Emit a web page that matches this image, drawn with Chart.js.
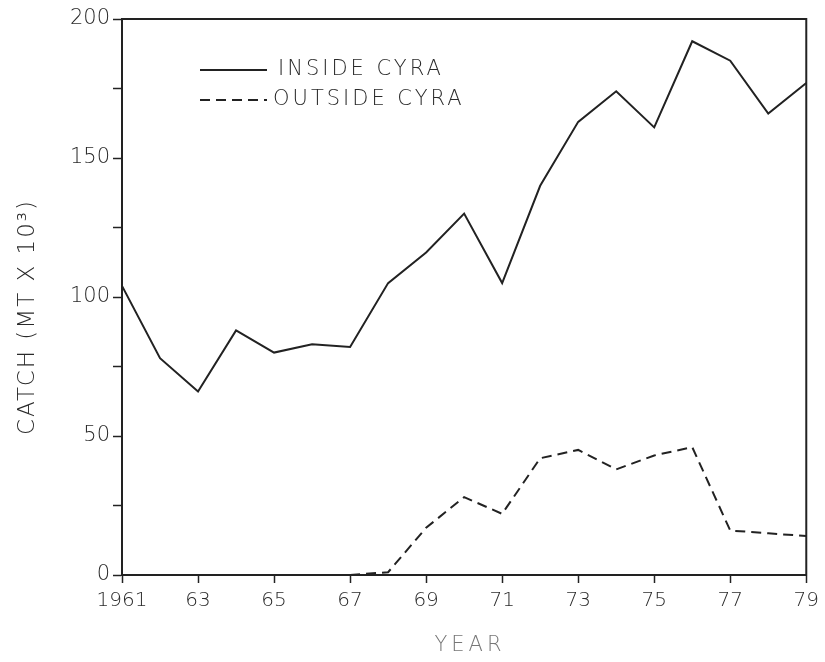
<!DOCTYPE html>
<html>
<head>
<meta charset="utf-8">
<script src="https://cdn.jsdelivr.net/npm/chart.js@4"></script>
<style>
  html, body { margin: 0; padding: 0; background: #fff; }
  #wrap { width: 825px; height: 662px; }
</style>
</head>
<body>
<div id="wrap"><canvas id="myChart" width="825" height="662"></canvas></div>
<script>
// data
const years = [1961, 1962, 1963, 1964, 1965, 1966, 1967, 1968, 1969, 1970,
  1971, 1972, 1973, 1974, 1975, 1976, 1977, 1978, 1979];
const insideCyra = [104, 78, 66, 88, 80, 83, 82, 105, 116, 130,
  105, 140, 163, 174, 161, 192, 185, 166, 177];
const outsideCyra = [null, null, null, null, null, null, 0, 1, 17, 28,
  22, 42, 45, 38, 43, 46, 16, 15, 14];
const seriesNames = ['INSIDE CYRA', 'OUTSIDE CYRA'];
const yTickLabels = [0, 50, 100, 150, 200];
const xTitle = 'YEAR';
const yTitle = 'CATCH (MT X 10\u00B3)';

const ink = '#222';
const fontFamily = '"DejaVu Sans", sans-serif';

// axis titles, frame and the little legend inside the plot
const decorations = {
  id: 'decorations',
  afterDraw(chart) {
    const ctx = chart.ctx;
    const area = chart.chartArea;
    ctx.save();
    ctx.strokeStyle = ink;
    ctx.lineWidth = 2;
    ctx.strokeRect(area.left, area.top, area.right - area.left, area.bottom - area.top);

    ctx.fillStyle = '#2a2a2a';
    ctx.font = '200 21px ' + fontFamily;
    ctx.letterSpacing = '3px';
    ctx.textBaseline = 'middle';

    // legend
    const rows = [
      { y: 70, textX: 278 },
      { y: 100, textX: 273 },
    ];
    chart.data.datasets.forEach((ds, i) => {
      const r = rows[i];
      ctx.beginPath();
      ctx.setLineDash(ds.borderDash || []);
      ctx.lineWidth = 2;
      ctx.moveTo(200, r.y);
      ctx.lineTo(267, r.y);
      ctx.stroke();
      ctx.setLineDash([]);
      ctx.textAlign = 'left';
      ctx.fillText(ds.label, r.textX, r.y);
    });

    // y title
    ctx.save();
    ctx.translate(28, 317);
    ctx.rotate(-Math.PI / 2);
    ctx.textAlign = 'center';
    ctx.font = '200 23px ' + fontFamily;
    ctx.letterSpacing = '2px';
    ctx.fillText(yTitle, 0, 0);
    ctx.restore();

    // x title
    ctx.fillStyle = '#777';
    ctx.font = '200 21px ' + fontFamily;
    ctx.letterSpacing = '4px';
    ctx.textAlign = 'center';
    ctx.fillText(xTitle, 470, 646);
    ctx.restore();
  },
};

const ctx = document.getElementById('myChart').getContext('2d');
new Chart(ctx, {
  type: 'line',
  data: {
    labels: years.map(String),
    datasets: [
      {
        label: seriesNames[0],
        data: insideCyra,
        borderColor: ink,
        borderWidth: 2,
        pointRadius: 0,
        tension: 0,
        fill: false,
      },
      {
        label: seriesNames[1],
        data: outsideCyra,
        borderColor: ink,
        borderWidth: 2,
        borderDash: [10, 6],
        pointRadius: 0,
        tension: 0,
        fill: false,
        spanGaps: false,
      },
    ],
  },
  options: {
    responsive: false,
    animation: false,
    layout: {
      padding: { top: 19, right: 16, bottom: 0, left: 0 },
    },
    plugins: {
      legend: { display: false },
      tooltip: { enabled: false },
    },
    scales: {
      x: {
        offset: false,
        afterFit: scale => { scale.height = 87; },
        border: { color: ink, width: 2 },
        grid: {
          drawOnChartArea: false,
          drawTicks: true,
          tickLength: 8,
          tickWidth: 1.5,
          color: c => (c.index % 2 === 0 ? ink : 'rgba(0,0,0,0)'),
        },
        ticks: {
          autoSkip: false,
          maxRotation: 0,
          padding: 6,
          color: '#2a2a2a',
          font: { family: fontFamily, size: 20, weight: 200 },
          callback: function (val, idx) {
            if (idx % 2) return '';
            const y = years[idx];
            return idx === 0 ? String(y) : String(y).slice(2);
          },
        },
      },
      y: {
        min: 0,
        max: 200,
        afterFit: scale => { scale.width = 122; },
        border: { color: ink, width: 2 },
        grid: {
          drawOnChartArea: false,
          drawTicks: true,
          tickLength: 9,
          tickWidth: 1.5,
          color: ink,
        },
        ticks: {
          stepSize: 25,
          padding: 3,
          color: '#2a2a2a',
          font: { family: fontFamily, size: 21, weight: 200 },
          callback: v => (yTickLabels.includes(v) ? String(v) : ''),
        },
      },
    },
  },
  plugins: [decorations],
});
</script>
</body>
</html>
